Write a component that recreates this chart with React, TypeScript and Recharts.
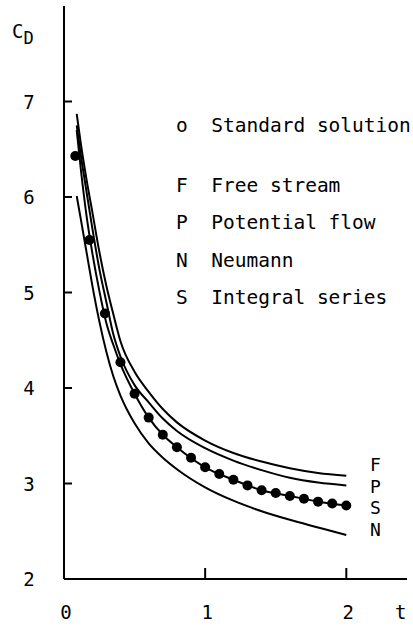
import React from 'react';
import { ComposedChart, Line, XAxis, YAxis } from 'recharts';

// time samples used for the computed curves
const LINE_T = [0.09, 0.12, 0.16, 0.2, 0.25, 0.3, 0.35, 0.4, 0.5, 0.6, 0.7, 0.8, 1.0, 1.2, 1.4, 1.6, 1.8, 2.0];
const FREE_STREAM = [6.87, 6.55, 6.18, 5.85, 5.43, 5.07, 4.77, 4.49, 4.17, 3.96, 3.78, 3.64, 3.45, 3.32, 3.23, 3.16, 3.11, 3.08];
const POTENTIAL = [6.75, 6.43, 6.05, 5.68, 5.25, 4.9, 4.56, 4.33, 4.03, 3.85, 3.68, 3.55, 3.37, 3.24, 3.14, 3.06, 3.01, 2.98];
const INTEGRAL = [6.7, 6.28, 5.8, 5.42, 5.02, 4.68, 4.45, 4.25, 3.94, 3.69, 3.51, 3.38, 3.17, 3.04, 2.93, 2.87, 2.81, 2.77];
const NEUMANN = [6.01, 5.76, 5.42, 5.08, 4.7, 4.38, 4.12, 3.92, 3.63, 3.42, 3.27, 3.15, 2.96, 2.82, 2.71, 2.62, 2.54, 2.46];

// standard solution points
const DOT_T = [0.08, 0.18, 0.29, 0.4, 0.5, 0.6, 0.7, 0.8, 0.9, 1.0, 1.1, 1.2, 1.3, 1.4, 1.5, 1.6, 1.7, 1.8, 1.9, 2.0];
const DOT_CD = [6.43, 5.55, 4.78, 4.27, 3.94, 3.69, 3.51, 3.38, 3.27, 3.17, 3.1, 3.04, 2.98, 2.93, 2.9, 2.87, 2.84, 2.81, 2.79, 2.77];

const X_TICKS = [0, 1, 2];
const Y_TICKS = [2, 3, 4, 5, 6, 7];

const LEGEND = [
  { key: 'o', label: 'Standard solution', top: 126 },
  { key: 'F', label: 'Free stream', top: 186 },
  { key: 'P', label: 'Potential flow', top: 223 },
  { key: 'N', label: 'Neumann', top: 261 },
  { key: 'S', label: 'Integral series', top: 298 },
];
const END_LABELS = ['F', 'P', 'S', 'N'];

const toRows = (ts: number[], vals: number[]) => ts.map((t, i) => ({ t, cd: vals[i] }));

const MONO = '"DejaVu Sans Mono", "Liberation Mono", monospace';

const XTick = (props: any) => {
  const { x, y, payload } = props;
  return (
    <g>
      {payload.value !== 0 && <line x1={x} y1={y} x2={x} y2={y - 11} stroke="#000" strokeWidth={2} />}
      <text x={x + 2} y={y + 33} textAnchor="middle" dominantBaseline="central" fontSize={19} fontFamily={MONO} fill="#000">
        {payload.value}
      </text>
    </g>
  );
};

const YTick = (props: any) => {
  const { x, y, payload } = props;
  return (
    <g>
      {payload.value !== 2 && <line x1={x} y1={y} x2={x + 8} y2={y} stroke="#000" strokeWidth={2} />}
      <text x={x - 35} y={y} textAnchor="middle" dominantBaseline="central" fontSize={19} fontFamily={MONO} fill="#000">
        {payload.value}
      </text>
    </g>
  );
};

const App: React.FC = () => {
  const curves = [FREE_STREAM, POTENTIAL, INTEGRAL, NEUMANN];
  return (
    <div style={{ position: 'relative', width: 413, height: 628, background: '#fff', overflow: 'hidden' }}>
      <style>{'body{margin:0}'}</style>
      <ComposedChart width={413} height={628} margin={{ top: 6, right: 6, bottom: 0, left: 0 }}>
        <XAxis
          type="number"
          dataKey="t"
          domain={[0, 2.43]}
          ticks={X_TICKS}
          height={49}
          tickSize={0}
          tickMargin={0}
          tickLine={false}
          axisLine={{ stroke: '#000', strokeWidth: 2 }}
          tick={<XTick />}
          allowDataOverflow
        />
        <YAxis
          type="number"
          domain={[2, 8]}
          ticks={Y_TICKS}
          width={64}
          tickSize={0}
          tickMargin={0}
          tickLine={false}
          axisLine={{ stroke: '#000', strokeWidth: 2 }}
          tick={<YTick />}
          allowDataOverflow
        />
        {curves.map((vals, i) => (
          <Line
            key={i}
            data={toRows(LINE_T, vals)}
            dataKey="cd"
            type="monotone"
            stroke="#000"
            strokeWidth={2}
            dot={false}
            isAnimationActive={false}
          />
        ))}
        <Line
          data={toRows(DOT_T, DOT_CD)}
          dataKey="cd"
          stroke="none"
          dot={{ r: 5, fill: '#000', stroke: 'none' }}
          isAnimationActive={false}
        />
      </ComposedChart>

      <div style={{ position: 'absolute', left: 12, top: 22, fontFamily: MONO, fontSize: 19, lineHeight: '19px' }}>
        C<span style={{ fontSize: 17, position: 'relative', top: 6 }}>D</span>
      </div>
      <div style={{ position: 'absolute', left: 395, top: 601, fontFamily: MONO, fontSize: 19, lineHeight: '22px' }}>t</div>

      {LEGEND.map((l) => (
        <div
          key={l.key}
          style={{
            position: 'absolute',
            left: 176,
            top: l.top - 12,
            fontFamily: MONO,
            fontSize: 19.5,
            lineHeight: '24px',
            whiteSpace: 'pre',
          }}
        >
          {`${l.key}  ${l.label}`}
        </div>
      ))}

      {END_LABELS.map((k, i) => (
        <div
          key={k}
          style={{
            position: 'absolute',
            left: 370,
            top: 454 + i * 21.5,
            fontFamily: MONO,
            fontSize: 18,
            lineHeight: '22px',
          }}
        >
          {k}
        </div>
      ))}
    </div>
  );
};

export default App;
